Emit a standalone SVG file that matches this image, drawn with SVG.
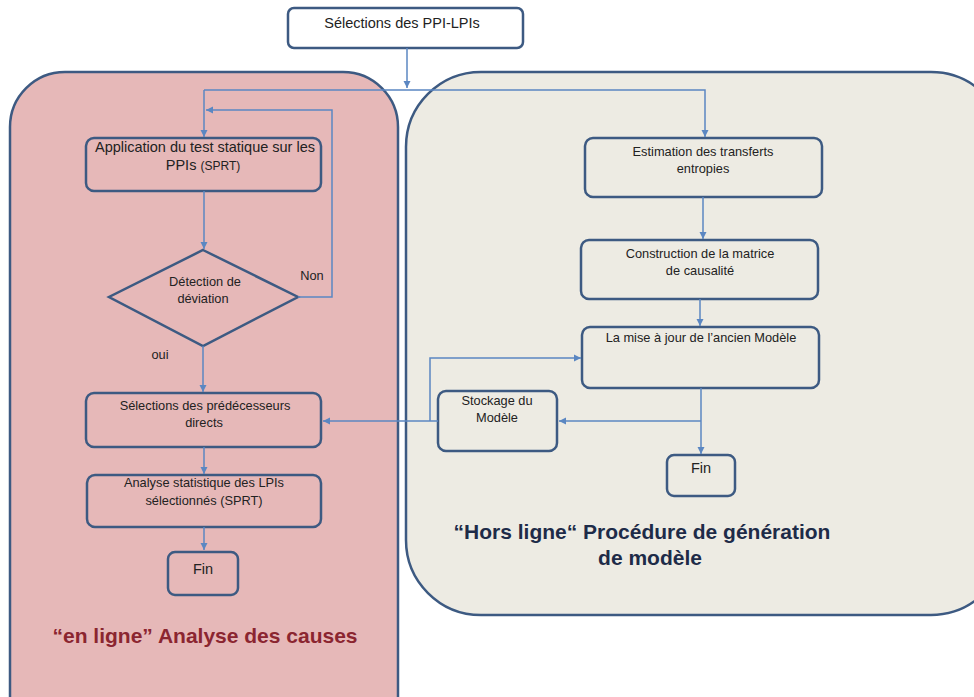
<svg xmlns="http://www.w3.org/2000/svg" width="974" height="697" viewBox="0 0 974 697">
<defs>
<marker id="ah" markerWidth="8" markerHeight="8" refX="7" refY="4" orient="auto" markerUnits="userSpaceOnUse">
<path d="M0,0.5 L7,4 L0,7.5 Z" fill="#5b87c2"/>
</marker>
<style>
.box{fill:none;stroke:#3d5a82;stroke-width:2.5}
.cont{stroke:#3d5a82;stroke-width:2.5}
.con{fill:none;stroke:#5b87c2;stroke-width:1.5}
.t{font-family:"Liberation Sans",Arial,sans-serif;font-size:12.8px;fill:#222;text-anchor:middle}
.ta{font-family:"Liberation Sans",Arial,sans-serif;font-size:14.5px;fill:#222;text-anchor:middle}
.title{font-family:"Liberation Sans",Arial,sans-serif;font-size:21px;font-weight:bold;text-anchor:middle}
</style>
</defs>
<rect width="974" height="697" fill="#ffffff"/>
<g id="online-container">
<rect class="cont" x="10" y="72" width="388" height="680" rx="55" fill="#e6b8b8"/>
<text class="title" x="205" y="643" fill="#8b2530">“en ligne” Analyse des causes</text>
</g>
<g id="offline-container">
<rect class="cont" x="406" y="72" width="600" height="543" rx="75" fill="#edebe3"/>
<text class="title" x="642" y="539" fill="#1e2b48">“Hors ligne“ Procédure de génération</text>
<text class="title" x="650" y="565" fill="#1e2b48">de modèle</text>
</g>
<g id="selections-ppi">
<rect x="288" y="8" width="235" height="40" rx="6" fill="#ffffff" stroke="#3d5a82" stroke-width="2.5"/>
<text class="ta" x="402" y="28">Sélections des PPI-LPIs</text>
</g>
<g id="application">
<rect class="box" x="86" y="138" width="235" height="53" rx="8"/>
<text class="ta" x="205" y="152">Application du test statique sur les</text>
<text class="ta" x="203" y="170">PPIs <tspan font-size="12px">(SPRT)</tspan></text>
</g>
<g id="detection">
<polygon class="box" points="203,250 298,297 203,346 109,297"/>
<text class="t" x="205" y="286">Détection de</text>
<text class="t" x="203" y="303">déviation</text>
</g>
<g id="selections-pred">
<rect class="box" x="86" y="393" width="235" height="54" rx="8"/>
<text class="t" x="205" y="410">Sélections des prédécesseurs</text>
<text class="t" x="204" y="427">directs</text>
</g>
<g id="analyse">
<rect class="box" x="87" y="475" width="234" height="52" rx="8"/>
<text class="t" x="204" y="487">Analyse statistique des LPIs</text>
<text class="t" x="204" y="505">sélectionnés (SPRT)</text>
</g>
<g id="fin-left">
<rect class="box" x="168" y="552" width="70" height="43" rx="7"/>
<text class="ta" x="203" y="574">Fin</text>
</g>
<g id="estimation">
<rect class="box" x="585" y="138" width="237" height="59" rx="8"/>
<text class="t" x="703" y="156">Estimation des transferts</text>
<text class="t" x="703" y="173">entropies</text>
</g>
<g id="construction">
<rect class="box" x="581" y="240" width="237" height="59" rx="8"/>
<text class="t" x="700" y="258">Construction de la matrice</text>
<text class="t" x="700" y="275">de causalité</text>
</g>
<g id="mise-a-jour">
<rect class="box" x="582" y="327" width="237" height="61" rx="8"/>
<text class="t" x="701" y="342">La mise à jour de l’ancien Modèle</text>
</g>
<g id="stockage">
<rect class="box" x="438" y="391" width="119" height="60" rx="8"/>
<text class="t" x="497" y="405">Stockage du</text>
<text class="t" x="497" y="422">Modèle</text>
</g>
<g id="fin-right">
<rect class="box" x="667" y="455" width="68" height="41" rx="7"/>
<text class="ta" x="701" y="473">Fin</text>
</g>
<g id="connectors">
<path class="con" d="M407,48 V88" marker-end="url(#ah)"/>
<path class="con" d="M204,90 H705 V137" marker-end="url(#ah)"/>
<path class="con" d="M204,90 V137" marker-end="url(#ah)"/>
<path class="con" d="M204,191 V249" marker-end="url(#ah)"/>
<path class="con" d="M298,297 H332 V110 H206" marker-end="url(#ah)"/>
<path class="con" d="M203,346 V392" marker-end="url(#ah)"/>
<path class="con" d="M204,447 V474" marker-end="url(#ah)"/>
<path class="con" d="M204,527 V550" marker-end="url(#ah)"/>
<path class="con" d="M703,197 V239" marker-end="url(#ah)"/>
<path class="con" d="M700,299 V326" marker-end="url(#ah)"/>
<path class="con" d="M701,388 V454" marker-end="url(#ah)"/>
<path class="con" d="M701,421 H559" marker-end="url(#ah)"/>
<path class="con" d="M438,421 H323" marker-end="url(#ah)"/>
<path class="con" d="M430,421 V358 H581" marker-end="url(#ah)"/>
<text class="t" x="312" y="280">Non</text>
<text class="t" x="160" y="359">oui</text>
</g>
</svg>
